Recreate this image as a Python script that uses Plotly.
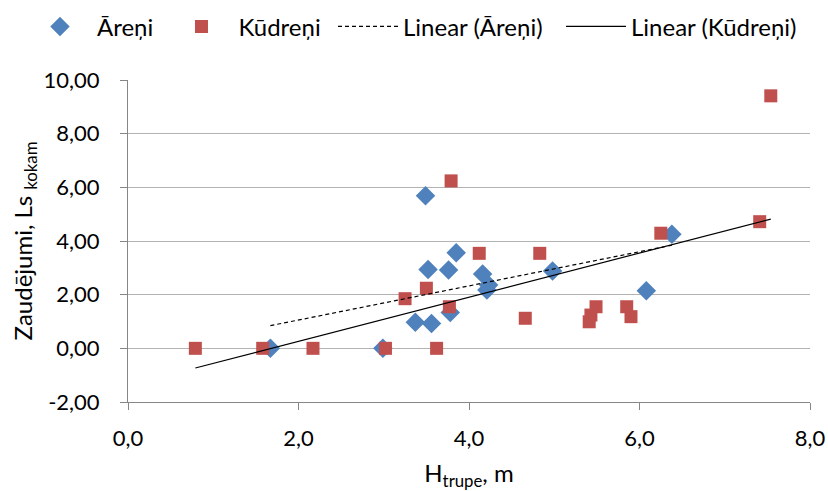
import numpy as np
import plotly.graph_objects as go

# Āreņi (blue diamonds)
areni_h = [1.67, 2.99, 3.49, 3.37, 3.56, 3.52, 3.76, 3.85, 3.78, 4.16, 4.23, 4.21, 4.98, 6.08, 6.38]
areni_ls = [0.00, 0.00, 5.69, 0.97, 0.93, 2.94, 2.92, 3.56, 1.34, 2.77, 2.36, 2.17, 2.88, 2.15, 4.25]

# Kūdreņi (red squares)
kudreni_h = [0.79, 1.58, 2.17, 3.02, 3.62, 3.25, 3.50, 3.77, 3.79, 4.12, 4.83, 4.66,
             5.49, 5.43, 5.41, 5.85, 5.90, 6.25, 7.41, 7.54]
kudreni_ls = [0.00, 0.00, 0.00, 0.00, 0.00, 1.85, 2.24, 1.55, 6.24, 3.54, 3.54, 1.12,
              1.55, 1.24, 0.99, 1.55, 1.18, 4.29, 4.72, 9.41]

names = ["Āreņi", "Kūdreņi", "Linear (Āreņi)", "Linear (Kūdreņi)"]
x_ticks = [0, 2, 4, 6, 8]
x_labels = ["0,0", "2,0", "4,0", "6,0", "8,0"]
y_ticks = [-2, 0, 2, 4, 6, 8, 10]
y_labels = ["-2,00", "0,00", "2,00", "4,00", "6,00", "8,00", "10,00"]

BLUE = "#4F81BD"
RED = "#C0504D"
FONT = "Lato"


def trend(xs, ys):
    k, b = np.polyfit(xs, ys, 1)
    xx = np.array([min(xs), max(xs)])
    return xx, k * xx + b


fig = go.Figure()
fig.add_trace(go.Scatter(x=areni_h, y=areni_ls, mode="markers", name=names[0], legend="legend",
                         marker=dict(symbol="diamond", size=15, color=BLUE)))
fig.add_trace(go.Scatter(x=kudreni_h, y=kudreni_ls, mode="markers", name=names[1], legend="legend2",
                         marker=dict(symbol="square", size=13, color=RED)))
ax, ay = trend(areni_h, areni_ls)
fig.add_trace(go.Scatter(x=ax, y=ay, mode="lines", name=names[2], legend="legend3",
                         line=dict(color="black", width=1.2, dash="4px,3px")))
kx, ky = trend(kudreni_h, kudreni_ls)
fig.add_trace(go.Scatter(x=kx, y=ky, mode="lines", name=names[3], legend="legend4",
                         line=dict(color="black", width=1.2)))


def leg(x, w):
    return dict(orientation="h", x=x, xanchor="left", y=1.165, yanchor="middle",
                font=dict(family=FONT, size=24), itemwidth=w,
                bgcolor="rgba(0,0,0,0)", borderwidth=0)


fig.update_layout(
    width=828, height=491,
    margin=dict(l=128, r=18, t=80, b=89, autoexpand=False),
    paper_bgcolor="white", plot_bgcolor="white",
    font=dict(family=FONT, size=22, color="black"),
    showlegend=True,
    legend=leg(-0.154, 64),
    legend2=leg(0.0535, 64),
    legend3=leg(0.3006, 60),
    legend4=leg(0.6349, 60),
    xaxis=dict(range=[0, 8], tickvals=x_ticks, ticktext=x_labels,
               showgrid=False, zeroline=False, showline=True, linecolor="#868686",
               linewidth=1, ticks="outside", ticklen=7, tickcolor="#868686",
               ticklabelstandoff=10,
               title=dict(text="H<sub>trupe</sub>, m", standoff=14,
                          font=dict(family=FONT, size=24))),
    yaxis=dict(range=[-2, 10], tickvals=y_ticks, ticktext=y_labels,
               showgrid=True, gridcolor="#b3b3b3", gridwidth=1,
               zeroline=False, showline=True, linecolor="#868686",
               linewidth=1, ticks="outside", ticklen=7, tickcolor="#868686",
               ticklabelstandoff=16,
               title=dict(text="Zaudējumi, Ls <sub>kokam</sub>", standoff=4,
                          font=dict(family=FONT, size=24))),
)

fig.write_html("out.html")
